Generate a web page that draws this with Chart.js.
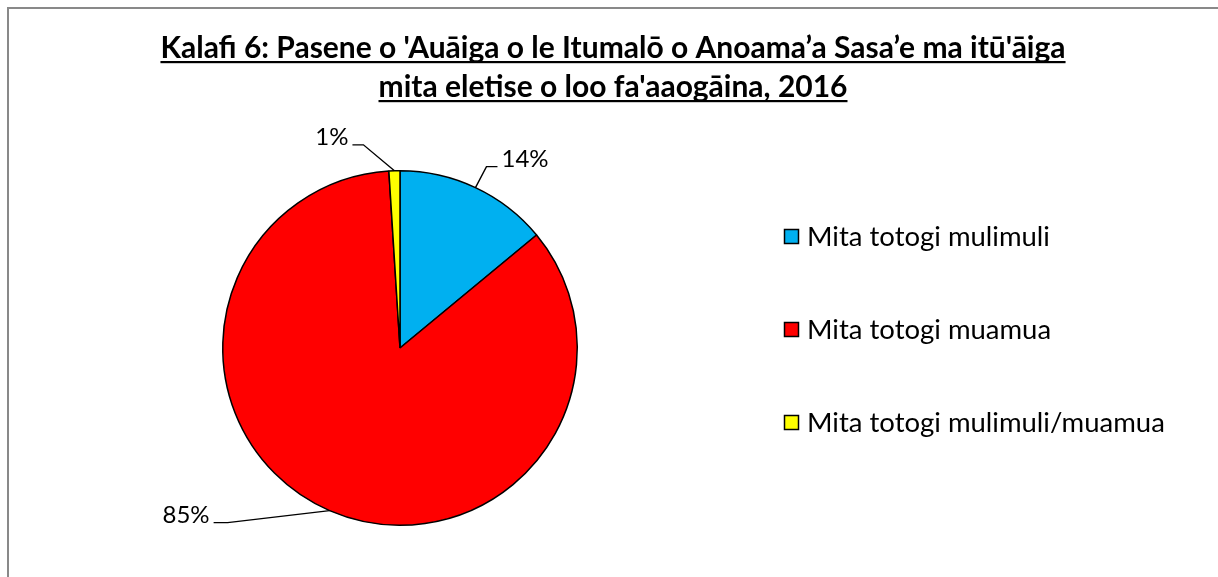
<!DOCTYPE html>
<html>
<head>
<meta charset="utf-8">
<script src="https://cdn.jsdelivr.net/npm/chart.js@4"></script>
<style>
  html, body { margin: 0; padding: 0; background: #fff; }
  #wrap { width: 1218px; height: 577px; }
</style>
</head>
<body>
<div id="wrap"><canvas id="myChart" width="1218" height="577"></canvas></div>
<script>
"use strict";
const titleLines = ["Kalafi 6: Pasene o 'Auāiga o le Itumalō o Anoama’a Sasa’e ma itū'āiga", "mita eletise o loo fa'aaogāina, 2016"];
const labels = ["Mita totogi mulimuli", "Mita totogi muamua", "Mita totogi mulimuli/muamua"];
const values = [14, 85, 1];
const sliceColors = [
    "#00b0f0", //mulimuli
    "#ff0000", //muamua
    "#ffff00" //mulimuli/muamua
];
const FONT = "Lato, 'Open Sans', sans-serif";

// where each data label sits relative to the point on the pie edge
const labelOffsets = [
    { dx: 11, dy: -21, run: 11, side: 1 },
    { dx: -102, dy: 12, run: -14, side: -1 },
    { dx: -31, dy: -26, run: -11, side: -1 }
];

const framePlugin = {
    id: "frame",
    beforeDraw(chart) {
        const ctx = chart.ctx;
        ctx.save();
        ctx.fillStyle = "#fff";
        ctx.fillRect(0, 0, chart.width, chart.height);
        ctx.strokeStyle = "#898989";
        ctx.lineWidth = 2;
        ctx.strokeRect(8, 8, 1400, 800);
        ctx.restore();
    }
};

const titlePlugin = {
    id: "ulTitle",
    afterDraw(chart) {
        const ctx = chart.ctx;
        ctx.save();
        ctx.font = "bold 30px " + FONT;
        ctx.fillStyle = "#000";
        ctx.textAlign = "center";
        ctx.textBaseline = "alphabetic";
        const cx = 613;
        titleLines.forEach((line, i) => {
            const y = 58 + i * 39;
            ctx.fillText(line, cx, y);
            const w = ctx.measureText(line).width;
            ctx.fillRect(cx - w / 2, y + 3, w, 2.2);
        });
        ctx.restore();
    }
};

const pieLabels = {
    id: "pieLabels",
    afterDatasetsDraw(chart) {
        const ctx = chart.ctx;
        const arcs = chart.getDatasetMeta(0).data;
        const total = values.reduce((a, b) => a + b, 0);
        ctx.save();
        ctx.font = "24px " + FONT;
        ctx.fillStyle = "#000";
        ctx.strokeStyle = "#000";
        ctx.lineWidth = 1.4;
        ctx.textBaseline = "alphabetic";
        arcs.forEach((arc, i) => {
            const mid = (arc.startAngle + arc.endAngle) / 2;
            const px = arc.x + Math.cos(mid) * arc.outerRadius;
            const py = arc.y + Math.sin(mid) * arc.outerRadius;
            const o = labelOffsets[i];
            const ex = px + o.dx, ey = py + o.dy;
            ctx.beginPath();
            ctx.moveTo(px, py);
            ctx.lineTo(ex, ey);
            ctx.lineTo(ex + o.run, ey);
            ctx.stroke();
            const txt = Math.round(values[i] / total * 100) + "%";
            ctx.textAlign = o.side > 0 ? "left" : "right";
            ctx.fillText(txt, ex + o.run + o.side * 4, ey);
        });
        ctx.restore();
    }
};

const legendPlugin = {
    id: "sideLegend",
    afterDraw(chart) {
        const ctx = chart.ctx;
        ctx.save();
        ctx.font = "27.5px " + FONT;
        ctx.textBaseline = "middle";
        ctx.textAlign = "left";
        labels.forEach((lab, i) => {
            const y = 237 + i * 93;
            ctx.fillStyle = sliceColors[i];
            ctx.fillRect(784, y - 8, 15, 15);
            ctx.strokeStyle = "#000";
            ctx.lineWidth = 1.5;
            ctx.strokeRect(784.5, y - 7.5, 14, 14);
            ctx.fillStyle = "#000";
            ctx.fillText(lab, 807, y);
        });
        ctx.restore();
    }
};

let chart = new Chart("myChart", {
    type: "pie",
    data: {
        labels: labels,
        datasets: [{
            data: values,
            backgroundColor: sliceColors,
            borderColor: "#000",
            borderWidth: 1.5
        }]
    },
    options: {
        responsive: false,
        animation: false,
        layout: { padding: { top: 170, bottom: 51, left: 222, right: 640 } },
        plugins: {
            legend: { display: false },
            tooltip: { enabled: false }
        }
    },
    plugins: [framePlugin, titlePlugin, pieLabels, legendPlugin]
});
</script>
</body>
</html>
